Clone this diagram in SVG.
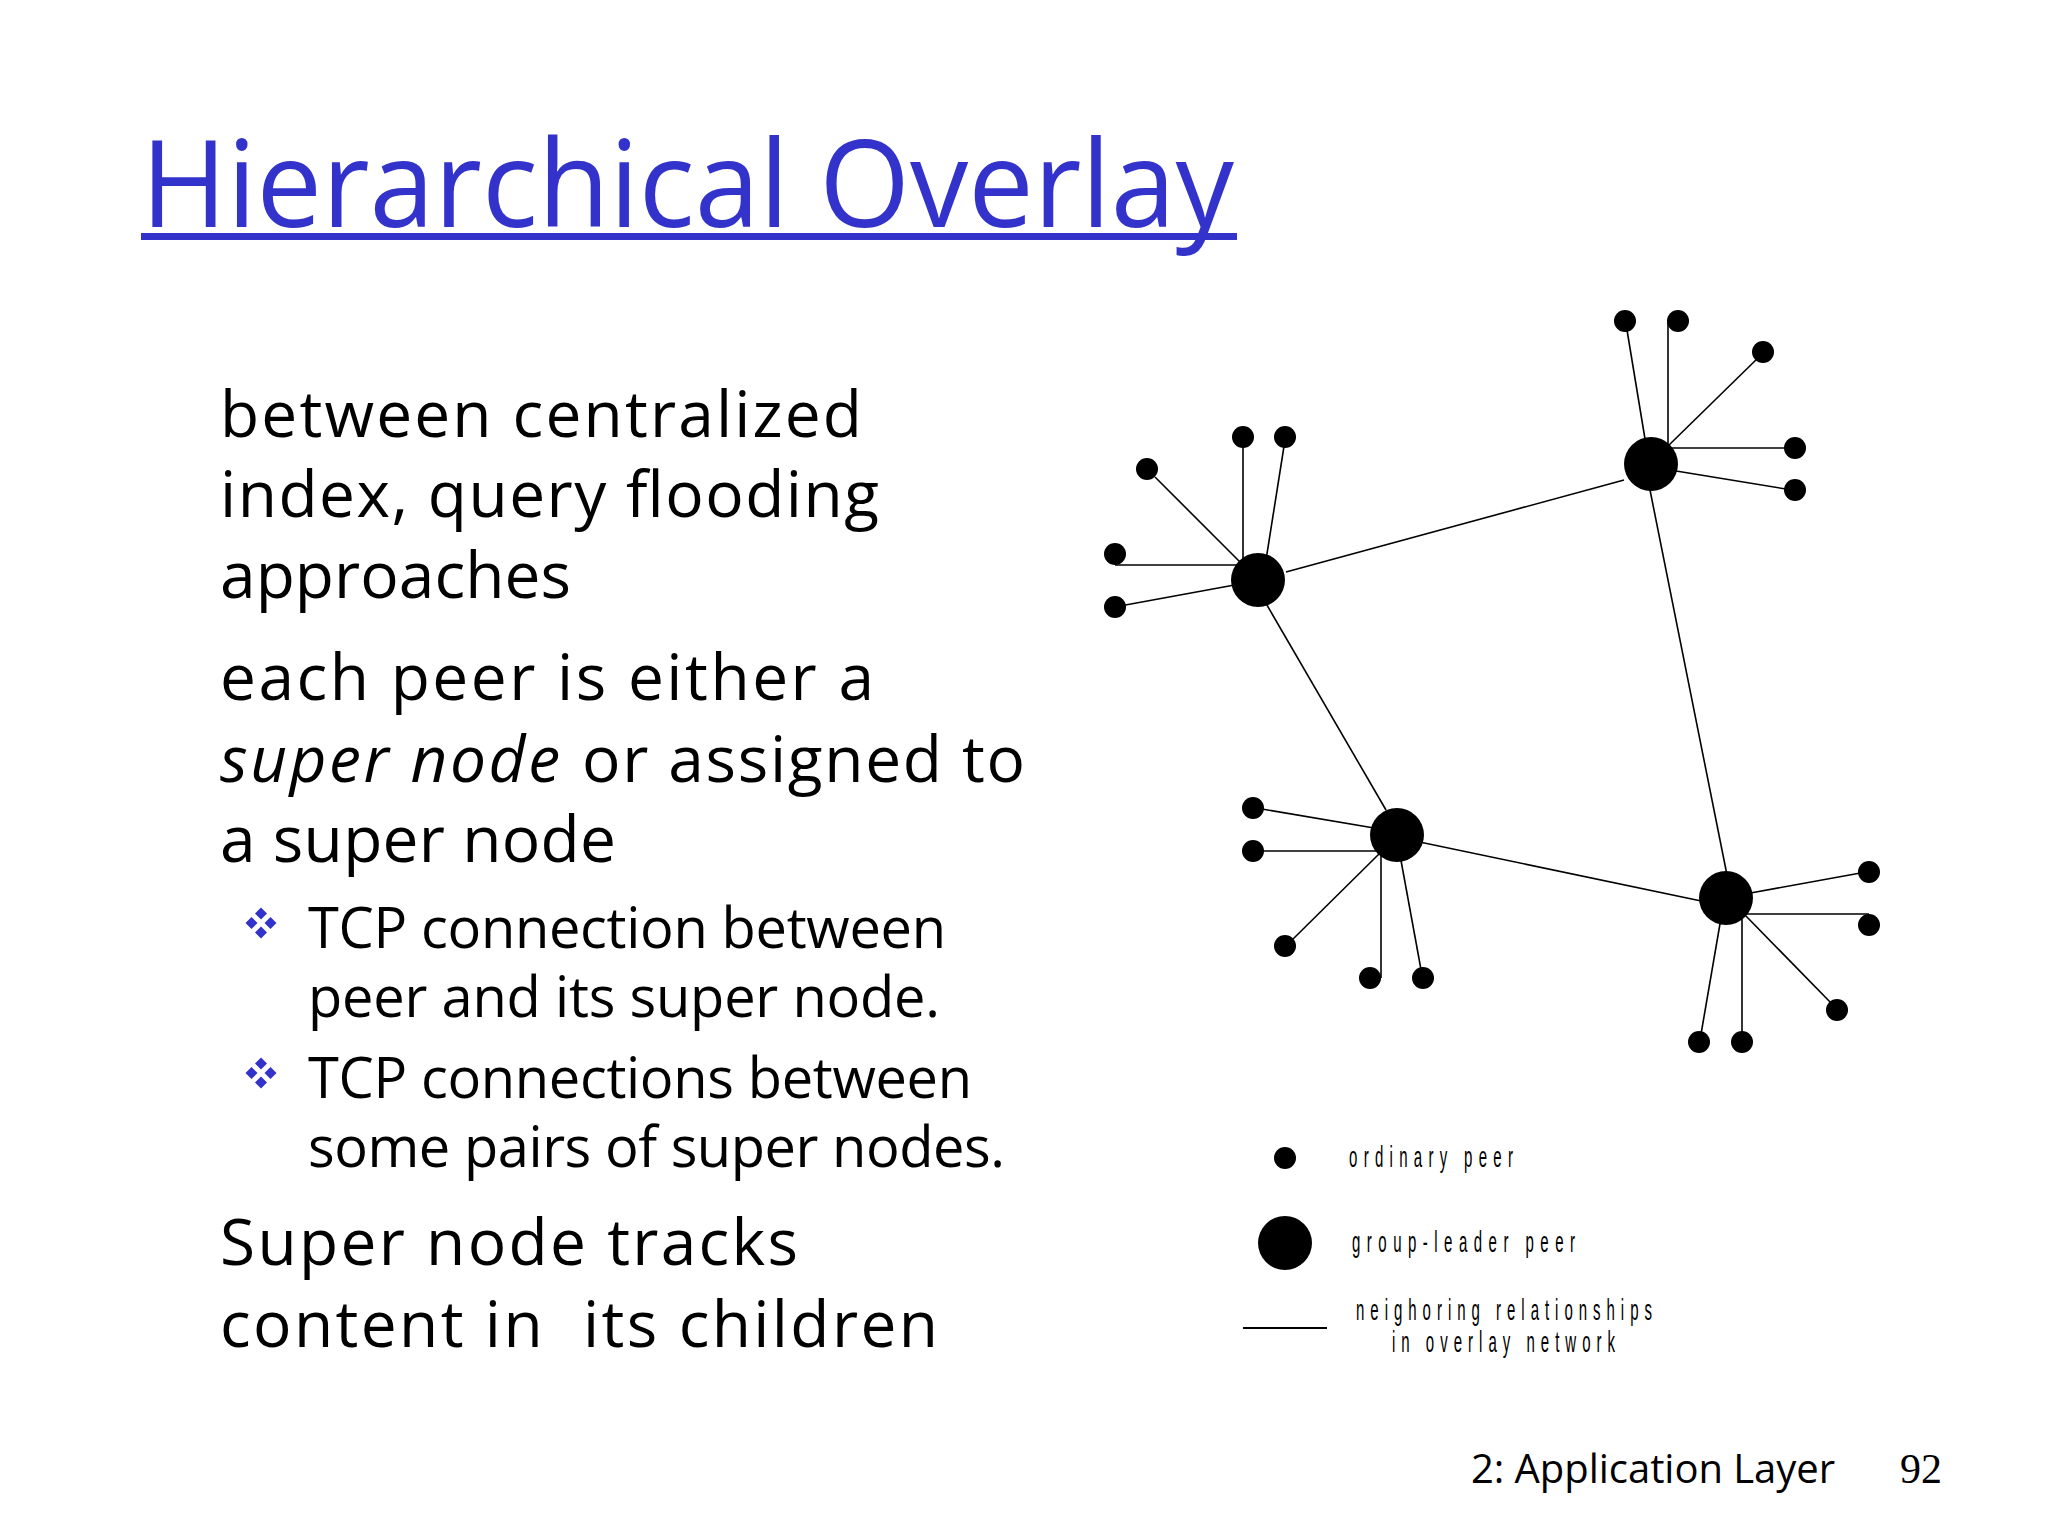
<svg xmlns="http://www.w3.org/2000/svg" width="2048" height="1536" viewBox="0 0 2048 1536">
<style>
.title{font-family:"Comic Sans MS","Open Sans",sans-serif;font-size:120px;font-weight:500;fill:#3333CC}
.body{font-family:"Comic Sans MS","Open Sans",sans-serif;font-size:64px;font-weight:500;fill:#000}
.sub{font-family:"Comic Sans MS","Open Sans",sans-serif;font-size:56px;font-weight:500;fill:#000}
.foot{font-family:"Comic Sans MS","Open Sans",sans-serif;font-size:40px;font-weight:500;fill:#000}
.num{font-family:"Liberation Serif","Times New Roman",serif;font-size:42px;fill:#000}
.leg{font-family:"Liberation Sans",Arial,sans-serif;font-size:30px;fill:#000}
.edge{stroke:#000;stroke-width:1.6;fill:none}
.super{fill:#000}
.peer{fill:#000}
.bul{fill:#3333CC}
</style>
<defs>
<g id="bullet">
<polygon points="0,-15.5 6,-9.5 0,-3.5 -6,-9.5"/>
<polygon points="-9.5,-6 -3.5,0 -9.5,6 -15.5,0"/>
<polygon points="9.5,-6 15.5,0 9.5,6 3.5,0"/>
<polygon points="0,3.5 6,9.5 0,15.5 -6,9.5"/>
</g>
</defs>
<rect width="2048" height="1536" fill="#fff"/>

<g id="title">
<text class="title" x="141" y="227" textLength="1093" lengthAdjust="spacingAndGlyphs">Hierarchical Overlay</text>
<rect x="141" y="233" width="1096" height="7" fill="#3333CC"/>
</g>

<g id="text-body">
<text class="body" x="220" y="437" textLength="642">between centralized</text>
<text class="body" x="220" y="517" textLength="659">index, query flooding</text>
<text class="body" x="220" y="598" textLength="351">approaches</text>
<text class="body" x="220" y="700" textLength="654">each peer is either a</text>
<text class="body" x="220" y="782" textLength="340" font-style="italic">super node</text>
<text class="body" x="582" y="782" textLength="443">or assigned to</text>
<text class="body" x="220" y="862" textLength="396">a super node</text>
<use href="#bullet" class="bul" x="261" y="923"/>
<text class="sub" x="308" y="948" textLength="638">TCP connection between</text>
<text class="sub" x="308" y="1017" textLength="632">peer and its super node.</text>
<use href="#bullet" class="bul" x="261" y="1073"/>
<text class="sub" x="308" y="1098" textLength="664">TCP connections between</text>
<text class="sub" x="308" y="1167" textLength="697">some pairs of super nodes.</text>
<text class="body" x="220" y="1265" textLength="578">Super node tracks</text>
<text class="body" x="220" y="1347" textLength="718" xml:space="preserve">content in  its children</text>
</g>

<g id="connectors">
<line class="edge" x1="1286" y1="572" x2="1624" y2="480"/>
<line class="edge" x1="1264" y1="600" x2="1386" y2="810"/>
<line class="edge" x1="1648" y1="480" x2="1728" y2="880"/>
<line class="edge" x1="1410" y1="840" x2="1706" y2="902"/>
<line class="edge" x1="1243" y1="440" x2="1243" y2="560"/>
<line class="edge" x1="1285" y1="440" x2="1266" y2="560"/>
<line class="edge" x1="1155" y1="477" x2="1240" y2="562"/>
<line class="edge" x1="1115" y1="565" x2="1240" y2="565"/>
<line class="edge" x1="1120" y1="606" x2="1240" y2="584"/>
<line class="edge" x1="1626" y1="324" x2="1646" y2="445"/>
<line class="edge" x1="1668" y1="321" x2="1668" y2="448"/>
<line class="edge" x1="1760" y1="356" x2="1668" y2="446"/>
<line class="edge" x1="1670" y1="448" x2="1795" y2="448"/>
<line class="edge" x1="1670" y1="470" x2="1792" y2="490"/>
<line class="edge" x1="1256" y1="808" x2="1380" y2="829"/>
<line class="edge" x1="1253" y1="851" x2="1380" y2="851"/>
<line class="edge" x1="1289" y1="943" x2="1380" y2="853"/>
<line class="edge" x1="1381" y1="850" x2="1381" y2="978"/>
<line class="edge" x1="1400" y1="855" x2="1422" y2="975"/>
<line class="edge" x1="1745" y1="894" x2="1866" y2="872"/>
<line class="edge" x1="1745" y1="914" x2="1869" y2="914"/>
<line class="edge" x1="1744" y1="914" x2="1833" y2="1005"/>
<line class="edge" x1="1742" y1="912" x2="1742" y2="1042"/>
<line class="edge" x1="1721" y1="918" x2="1700" y2="1040"/>
</g>

<g id="node-A"><circle class="super" cx="1258" cy="580" r="27"/></g>
<g id="node-B"><circle class="super" cx="1651" cy="464" r="27"/></g>
<g id="node-C"><circle class="super" cx="1397" cy="835" r="27"/></g>
<g id="node-D"><circle class="super" cx="1726" cy="898" r="27"/></g>

<g id="peers-A">
<circle class="peer" cx="1243" cy="437" r="11"/>
<circle class="peer" cx="1285" cy="437" r="11"/>
<circle class="peer" cx="1147" cy="469" r="11"/>
<circle class="peer" cx="1115" cy="554" r="11"/>
<circle class="peer" cx="1115" cy="607" r="11"/>
</g>
<g id="peers-B">
<circle class="peer" cx="1625" cy="321" r="11"/>
<circle class="peer" cx="1678" cy="321" r="11"/>
<circle class="peer" cx="1763" cy="352" r="11"/>
<circle class="peer" cx="1795" cy="448" r="11"/>
<circle class="peer" cx="1795" cy="490" r="11"/>
</g>
<g id="peers-C">
<circle class="peer" cx="1253" cy="808" r="11"/>
<circle class="peer" cx="1253" cy="851" r="11"/>
<circle class="peer" cx="1285" cy="946" r="11"/>
<circle class="peer" cx="1370" cy="978" r="11"/>
<circle class="peer" cx="1423" cy="978" r="11"/>
</g>
<g id="peers-D">
<circle class="peer" cx="1869" cy="872" r="11"/>
<circle class="peer" cx="1869" cy="925" r="11"/>
<circle class="peer" cx="1837" cy="1010" r="11"/>
<circle class="peer" cx="1742" cy="1042" r="11"/>
<circle class="peer" cx="1699" cy="1042" r="11"/>
</g>

<g id="legend">
<circle class="peer" cx="1285" cy="1158" r="11"/>
<circle class="super" cx="1285" cy="1243" r="27"/>
<line x1="1243" y1="1328" x2="1327" y2="1328" stroke="#000" stroke-width="2"/>
<text class="leg" transform="translate(1349,1167) scale(0.5,1)" textLength="328">ordinary peer</text>
<text class="leg" transform="translate(1352,1252) scale(0.5,1)" textLength="446">group-leader peer</text>
<text class="leg" transform="translate(1356,1320) scale(0.5,1)" textLength="592">neighoring relationships</text>
<text class="leg" transform="translate(1392,1352) scale(0.5,1)" textLength="446">in overlay network</text>
</g>

<g id="footer">
<text class="foot" x="1471" y="1483" textLength="364">2: Application Layer</text>
<text class="num" x="1942" y="1483" text-anchor="end">92</text>
</g>
</svg>
